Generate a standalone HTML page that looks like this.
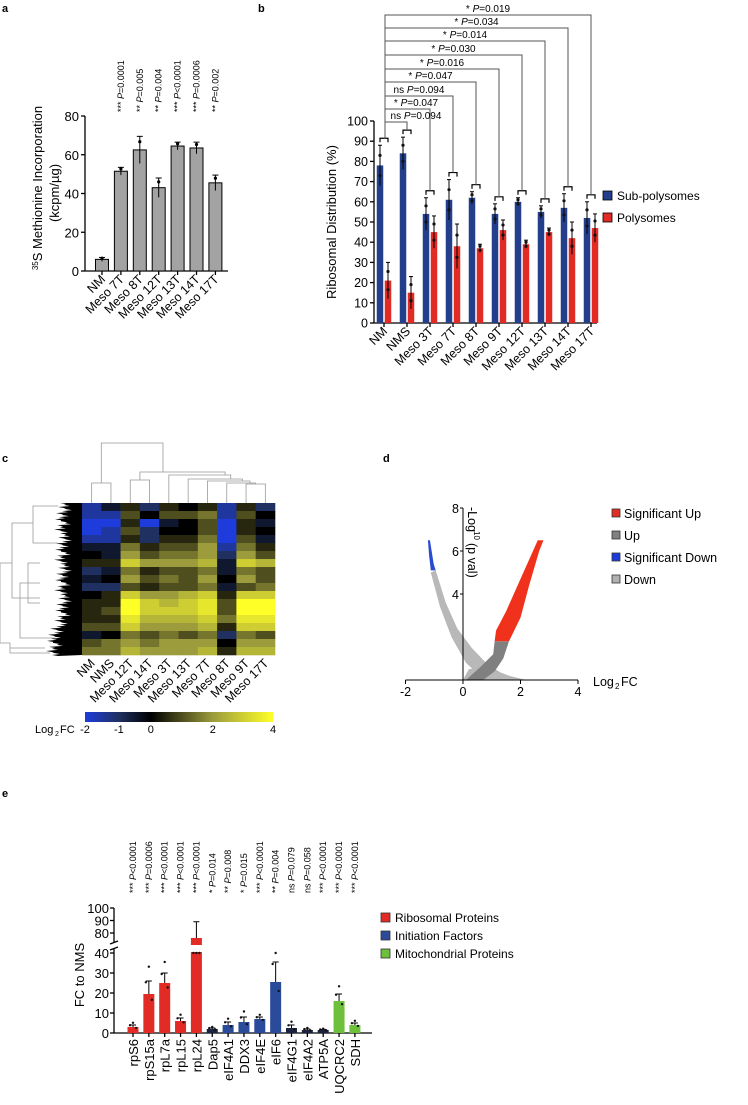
<!DOCTYPE html>
<html><head><meta charset="utf-8">
<style>
body{margin:0;background:#fff;}
svg{display:block;font-family:"Liberation Sans",Arial,sans-serif;}
</style></head>
<body>
<svg id="fig" width="748" height="1105" viewBox="0 0 748 1105">
<defs>
<linearGradient id="cbar" x1="0" x2="1" y1="0" y2="0">
<stop offset="0" stop-color="#1e3cdc"/><stop offset="0.18" stop-color="#203060"/><stop offset="0.35" stop-color="#000"/><stop offset="0.68" stop-color="#9c9c3c"/><stop offset="1" stop-color="#ffff28"/>
</linearGradient>
</defs>
</svg>
<script>
// ---------- DATA ----------
const aCats=["NM","Meso 7T","Meso 8T","Meso 12T","Meso 13T","Meso 14T","Meso 17T"];
const aVals=[6,51.5,62.5,43,64.5,63.5,45.5];
const aErr=[1,2,7,5,2,3,4];
const aP=["","*** P=0.0001","** P=0.005","** P=0.004","*** P<0.0001","*** P=0.0006","** P=0.002"];
const aTicks=[0,20,40,60,80];

const bCats=["NM","NMS","Meso 3T","Meso 7T","Meso 8T","Meso 9T","Meso 12T","Meso 13T","Meso 14T","Meso 17T"];
const bSub=[78,84,54,61,62,54,60,55,57,52];
const bSubErr=[10,8,8,10,3,5,2,3,7,8];
const bPoly=[21,15,45,38,37,46,39,45,42,47];
const bPolyErr=[9,8,8,11,2,5,2,2,8,7];
const bTicks=[0,10,20,30,40,50,60,70,80,90,100];
const bCompTarget=[9,8,7,6,5,4,3,2,1];
const bCompLabel=["* P=0.019","* P=0.034","* P=0.014","* P=0.030","* P=0.016","* P=0.047","ns P=0.094","* P=0.047","ns P=0.094"];

const cCols=["NM","NMS","Meso 12T","Meso 14T","Meso 3T","Meso 13T","Meso 7T","Meso 8T","Meso 9T","Meso 17T"];
const cMatrix=[
[-1.5,-0.5,0.5,-1,0.5,0,0.5,-1.5,0.5,-1],
[-1.5,-1.5,1,0,1,1,1.5,-1.5,1,0],
[-2,-2,0.5,-2,-0.5,0,1,-2,0.5,-0.5],
[-2,-1.5,1,-1,0,0,1,-2,0.5,0],
[-1.5,-1.5,0.5,-1,0.5,0.5,1.5,-2,1,-0.5],
[-0.5,-0.5,1.5,0.5,1,1,2,-1.5,1.5,0.5],
[0,-0.5,2,1,1.5,1.5,2,-1,2,1],
[0.5,0.5,3,2,2,2,2.5,-0.5,3,2.5],
[-1,-0.5,1.5,0.5,1,1,1.5,-0.5,1.5,1],
[-0.5,0,2,1,1.5,1,2,0,2,1],
[-1,-1,1,0.5,1,1,1.5,-0.5,1,1.5],
[0,0.5,3,2,2,2.5,3,0.5,3,3],
[0.5,0.5,4,3,2.5,3,3.5,1,4,4],
[0.5,1,4,3,3,3,3.5,1,4,4],
[0.5,0.5,3.5,2.5,2.5,2.5,3,1.5,3.5,3.5],
[1,1,3,2,2,2,2.5,0.5,3,3],
[-0.5,0,1.5,1,1.5,1,1.5,-1,1.5,1],
[1,1.5,2,1.5,2,2,2,0,2,2],
[1.5,1.5,2.5,2,2,2,2.5,0.5,2.5,2.5]];
const cBarTicks=[-2,-1,0,2,4];

const dXTicks=[-2,0,2,4];
const dYTicks=[4,6,8];
const dLight=[[-1.12,5.0],[-0.95,5.1],[-0.6,3.6],[-0.2,2.4],[0.3,1.5],[0.8,0.8],[1.3,0.35],[2.0,0],[0.9,0],[0.5,0.3],[0.1,0.8],[-0.4,2.0],[-0.8,3.4]];
const dLightBottom=[[0,0],[0.2,0.5],[0.6,0.6],[1.0,0.5],[1.6,0.2],[2.2,0],[1.2,0]];
const dDark=[[0.1,0],[0.6,0.6],[1.05,1.2],[1.1,1.8],[1.6,1.8],[1.4,1.0],[1.1,0.4],[0.7,0]];
const dRed=[[1.1,1.8],[1.6,1.8],[2.0,2.9],[2.3,4.4],[2.65,6.0],[2.8,6.5],[2.6,6.5],[2.3,5.6],[1.9,4.4],[1.5,3.2],[1.15,2.3]];
const dBlue=[[-1.22,6.5],[-1.15,6.5],[-1.02,5.4],[-0.95,5.1],[-1.12,5.1],[-1.18,5.8]];

const eCats=["rpS6","rpS15a","rpL7a","rpL15","rpL24","Dap5","eIF4A1","DDX3","eIF4E","eIF6","eIF4G1","eIF4A2","ATP5A","UQCRC2","SDH"];
const eVals=[3,19.5,25,6,76,2,4,5.5,7,25.5,2.5,1.5,1.5,16,4];
const eErr=[1,6.5,5,1.5,13,0.5,1.5,2.5,1,10,1.5,0.5,0.3,3.5,1];
const eGroup=[0,0,0,0,0,2,1,1,1,1,2,2,2,3,3];
const eP=["*** P<0.0001","*** P=0.0006","*** P<0.0001","*** P<0.0001","*** P<0.0001","* P=0.014","** P=0.008","* P=0.015","*** P<0.0001","** P=0.004","ns P=0.079","ns P=0.058","*** P<0.0001","*** P<0.0001","*** P<0.0001"];
const eTicksLow=[0,10,20,30,40];
const eTicksHigh=[80,90,100];

// ---------- HELPERS ----------
const NS="http://www.w3.org/2000/svg";
const svg=document.getElementById('fig');
function mk(tag,attrs,parent){const el=document.createElementNS(NS,tag);for(const k in attrs)el.setAttribute(k,attrs[k]);(parent||svg).appendChild(el);return el;}
function nm(el,n){


return el;}
function txt(x,y,s,size,attrs,name,pItal){const t=mk('text',Object.assign({x:x,y:y,'font-size':size},attrs||{}));
if(pItal){const m=s.match(/^(.*?)P(.*)$/);const a=mk('tspan',{},t);a.textContent=m[1];const b=mk('tspan',{'font-style':'italic'},t);b.textContent='P';const c=mk('tspan',{},t);c.textContent=m[2];}
else t.textContent=s;
return nm(t,name);}
function line(x1,y1,x2,y2,name,stroke,w){return nm(mk('line',{x1:x1,y1:y1,x2:x2,y2:y2,stroke:stroke||'#000','stroke-width':w||1.3}),name);}

txt(2,12,"a",11,{'font-weight':'bold'},'panel-a-label');
txt(258,12,"b",11,{'font-weight':'bold'},'panel-b-label');
txt(2,462,"c",11,{'font-weight':'bold'},'panel-c-label');
txt(383,462,"d",11,{'font-weight':'bold'},'panel-d-label');
txt(2,797,"e",11,{'font-weight':'bold'},'panel-e-label');

// ---------- PANEL A ----------
(function(){
const y0=271,pxU=155/80,ax=85,x0=102,sp=18.9,bw=13;
const Y=v=>y0-v*pxU, X=i=>x0+i*sp;
line(ax,116,ax,y0,'a-y-axis');
line(ax,y0,228,y0,'a-x-axis');
aTicks.forEach(t=>{line(ax-4,Y(t),ax,Y(t),'a-y-tick');txt(ax-6,Y(t)+5,String(t),13,{'text-anchor':'end'},'a-y-tick-label');});
aCats.forEach((c,i)=>{
nm(mk('rect',{x:X(i)-bw/2,y:Y(aVals[i]),width:bw,height:y0-Y(aVals[i]),fill:'#a3a3a3',stroke:'#000','stroke-width':1}),'a-bar');
line(X(i),Y(aVals[i]-aErr[i]),X(i),Y(aVals[i]+aErr[i]),'a-error-bar','#000',1);
line(X(i)-3,Y(aVals[i]+aErr[i]),X(i)+3,Y(aVals[i]+aErr[i]),'a-error-cap','#000',1);
nm(mk('circle',{cx:X(i),cy:Y(aVals[i]+aErr[i]*0.6),r:1.6,fill:'#000'}),'a-point');
line(X(i),y0,X(i),y0+4,'a-x-tick');
txt(X(i)+4,y0+9,c,12.5,{'text-anchor':'end',transform:`rotate(-45 ${X(i)+4} ${y0+9})`},'a-x-label');
if(aP[i])txt(X(i)+3,112,aP[i],9,{transform:`rotate(-90 ${X(i)+3} 112)`},'a-p-value',true);
});
const t=mk('text',{x:42,y:188,'font-size':13,'text-anchor':'middle',transform:'rotate(-90 42 188)'});
nm(t,'a-y-title');
const s1=mk('tspan',{'font-size':8,dy:-4},t);s1.textContent='35';
const s2=mk('tspan',{dy:4},t);s2.textContent='S Methionine Incorporation';
txt(59,193,"(kcpm/µg)",13,{'text-anchor':'middle',transform:'rotate(-90 59 193)'},'a-y-title-unit');
})();

// ---------- PANEL B ----------
(function(){
const y0=323,pxU=2.02,ax=374,x0=384,sp=23,bw=6.5;
const Y=v=>y0-v*pxU, X=i=>x0+i*sp;
line(ax,121,ax,y0,'b-y-axis');
line(ax,y0,597,y0,'b-x-axis');
bTicks.forEach(t=>{line(ax-4,Y(t),ax,Y(t),'b-y-tick');txt(ax-6,Y(t)+4.5,String(t),12.5,{'text-anchor':'end'},'b-y-tick-label');});
const bTop=[];
bCats.forEach((c,i)=>{
const xs=[X(i)-4,X(i)+4],vals=[bSub[i],bPoly[i]],errs=[bSubErr[i],bPolyErr[i]],cols=['#233f8c','#e22b25'],names=['b-bar-sub-polysomes','b-bar-polysomes'];
for(let k=0;k<2;k++){
nm(mk('rect',{x:xs[k]-bw/2,y:Y(vals[k]),width:bw,height:y0-Y(vals[k]),fill:cols[k]}),names[k]);
line(xs[k],Y(vals[k]-errs[k]),xs[k],Y(vals[k]+errs[k]),'b-error-bar','#000',1);
line(xs[k]-2,Y(vals[k]+errs[k]),xs[k]+2,Y(vals[k]+errs[k]),'b-error-cap','#000',1);
nm(mk('circle',{cx:xs[k],cy:Y(vals[k]+errs[k]*0.5),r:1.6,fill:'#111'}),'b-point');
nm(mk('circle',{cx:xs[k],cy:Y(vals[k]-errs[k]*0.5),r:1.6,fill:'#111'}),'b-point');
}
line(X(i),y0,X(i),y0+4,'b-x-tick');
txt(X(i)+4,y0+9,c,12.5,{'text-anchor':'end',transform:`rotate(-45 ${X(i)+4} ${y0+9})`},'b-x-label');
const top=Y(Math.max(bSub[i]+bSubErr[i],bPoly[i]+bPolyErr[i]))-7;bTop.push(top);
nm(mk('path',{d:`M${X(i)-4} ${top+4}V${top}H${X(i)+4}V${top+4}`,fill:'none',stroke:'#000','stroke-width':1.2}),'b-group-bracket');
});
const levels=[15,28,41,55,69,82,96,109,122];
bCompTarget.forEach((t,j)=>{
const ly=levels[j],xs=X(0)+1,xt=X(t);
nm(mk('path',{d:`M${xs} ${bTop[0]}V${ly}H${xt}V${bTop[t]}`,fill:'none',stroke:'#555','stroke-width':1}),'b-comparison-line');
const mid=Math.max((xs+xt)/2,416);
txt(mid,ly-3,bCompLabel[j],10,{'text-anchor':'middle'},'b-comparison-label',true);
});
txt(336,222,"Ribosomal Distribution (%)",13,{'text-anchor':'middle',transform:'rotate(-90 336 222)'},'b-y-title');
nm(mk('rect',{x:603,y:191,width:9,height:9,fill:'#233f8c',stroke:'#000','stroke-width':0.8}),'b-legend-swatch-sub');
txt(617,200,"Sub-polysomes",12,{},'b-legend-sub-polysomes');
nm(mk('rect',{x:603,y:213,width:9,height:9,fill:'#e22b25',stroke:'#000','stroke-width':0.8}),'b-legend-swatch-poly');
txt(617,222,"Polysomes",12,{},'b-legend-polysomes');
})();

// ---------- PANEL C ----------
(function(){
const hx=82,hy=503,hw=193,hh=152,cw=hw/cCols.length,rh=hh/cMatrix.length;
function col(v){const st=[[-2,[30,60,220]],[-1,[32,48,96]],[0,[0,0,0]],[2,[156,156,60]],[4,[255,255,40]]];
for(let k=0;k<st.length-1;k++){if(v<=st[k+1][0]){const f=(v-st[k][0])/(st[k+1][0]-st[k][0]);const a=st[k][1],b=st[k+1][1];return `rgb(${a.map((c,j)=>Math.round(c+(b[j]-c)*f)).join(',')})`;}}return 'rgb(255,255,40)';}
cMatrix.forEach((row,r)=>row.forEach((v,c)=>{
nm(mk('rect',{x:hx+c*cw,y:hy+r*rh,width:cw+0.3,height:rh+0.3,fill:col(v)}),'c-heatmap-cell');
}));
cCols.forEach((c,i)=>{const x=hx+(i+0.5)*cw;txt(x+4,hy+hh+9,c,12.5,{'text-anchor':'end',transform:`rotate(-45 ${x+4} ${hy+hh+9})`},'c-column-label');});
const cx=i=>hx+(i+0.5)*cw;
const dg=`M${cx(0)} ${hy}V483H${cx(1)}V${hy} M${(cx(0)+cx(1))/2} 483V443H163V472 M${cx(2)} ${hy}V480H${cx(3)}V${hy} M${(cx(2)+cx(3))/2} 480V472H${(cx(4)+cx(9))/2+8}V475 M${cx(4)} ${hy}V475H${(cx(5)+cx(9))/2+4}V479 M${cx(5)} ${hy}V479H${(cx(6)+cx(9))/2+6}V481 M${cx(6)} ${hy}V481H${(cx(7)+cx(9))/2+4}V483 M${cx(7)} ${hy}V483H${(cx(8)+cx(9))/2}V484 M${cx(8)} ${hy}V484H${cx(9)}V${hy}`;
nm(mk('path',{d:dg,fill:'none',stroke:'#999','stroke-width':0.8}),'c-column-dendrogram');
let pts=`${hx},${hy}`;const jag=[60,64,58,66,62,56,63,59,55,61,65,57,60,54,62];
for(let k=0;k<=75;k++){const yy=hy+k*hh/75;const xx=jag[k%15]-(k>60?8:0);pts+=` ${xx},${yy} ${xx+6},${yy+1}`;}pts+=` ${hx},${hy+hh}`;
nm(mk('polygon',{points:pts,fill:'#000'}),'c-row-dendrogram-leaves');
nm(mk('path',{d:`M58 ${hy+3}H33V${hy+40}H58 M33 ${hy+20}H12V${hy+95}H40 M12 ${hy+60}H0 M40 ${hy+80}H20V${hy+135}H55 M0 ${hy+60}V${hy+140}H10V${hy+150}H50 M10 ${hy+145}H45 M40 ${hy+60}H28V${hy+100}H40`,fill:'none',stroke:'#999','stroke-width':0.8}),'c-row-dendrogram');
nm(mk('rect',{x:85,y:712,width:188,height:10,fill:'url(#cbar)'}),'c-colorbar');
cBarTicks.forEach(t=>{const pos={"-2":0,"-1":0.18,"0":0.35,"2":0.68,"4":1}[t];txt(85+pos*188,733,String(t),11,{'text-anchor':'middle'},'c-colorbar-tick');});
txt(35,733,"Log",11,{},'c-colorbar-title');txt(55,736,"2",7,{},'c-colorbar-title-sub');txt(60,733," FC",11,{},'c-colorbar-title-fc');
})();

// ---------- PANEL D ----------
(function(){
const ox=463,oy=680,ux=28.75,uy=21.5;
const X=v=>ox+v*ux,Y=v=>oy-v*uy;
function poly(arr,fill,name){nm(mk('polygon',{points:arr.map(p=>X(p[0])+','+Y(p[1])).join(' '),fill:fill}),name);}
poly(dLight,'#b8b8b8','d-down-points');
poly(dLightBottom,'#b8b8b8','d-down-points-bottom');
poly(dDark,'#808080','d-up-points');
poly(dRed,'#f0321c','d-significant-up-points');
poly(dBlue,'#2a4ad0','d-significant-down-points');
line(X(-2),oy,X(4),oy,'d-x-axis','#000',1);
line(ox,Y(8),ox,oy,'d-y-axis','#000',1);
dXTicks.forEach(t=>{line(X(t),oy,X(t),oy+4,'d-x-tick','#000',1);txt(X(t),oy+16,String(t),12.5,{'text-anchor':'middle'},'d-x-tick-label');});
dYTicks.forEach(t=>{line(ox-3,Y(t),ox,Y(t),'d-y-tick','#000',1);txt(ox-4,Y(t)+5,String(t),12.5,{'text-anchor':'end'},'d-y-tick-label');});
txt(593,686,"Log",12.5,{},'d-x-title');txt(615,689,"2",8,{},'d-x-title-sub');txt(621,686," FC",12.5,{},'d-x-title-fc');
txt(468,507,"-Log",12.5,{transform:'rotate(90 468 507)'},'d-y-title');
txt(474,531,"10",8,{transform:'rotate(90 474 531)'},'d-y-title-sub');
txt(468,543," (p val)",12.5,{transform:'rotate(90 468 543)'},'d-y-title-rest');
const lg=[['#e22b25','Significant Up'],['#808080','Up'],['#1e3cdc','Significant Down'],['#b0b0b0','Down']];
lg.forEach((l,i)=>{nm(mk('rect',{x:612,y:509+i*22,width:8,height:8,fill:l[0],stroke:'#333','stroke-width':0.8}),'d-legend-swatch');txt(624,518+i*22,l[1],12.5,{},'d-legend-entry');});
})();

// ---------- PANEL E ----------
(function(){
const ax=114,y0=1033,uLow=2,x0=133,sp=15.85,bw=11;
const yHigh0=933,uHigh=1.25;
const Y=v=>v<=40?y0-v*uLow:yHigh0-(v-80)*uHigh;
const X=i=>x0+i*sp;
const cols=['#e22b25','#2a4a9a','#1c2340','#6cc03a'];
line(ax,y0,ax,949,'e-y-axis-lower');line(ax,942,ax,Y(100),'e-y-axis-upper');
line(ax-4,950,ax+4,947,'e-axis-break');line(ax-4,944,ax+4,941,'e-axis-break');
line(ax,y0,372,y0,'e-x-axis');
eTicksLow.forEach(t=>{line(ax-4,Y(t),ax,Y(t),'e-y-tick');txt(ax-5,Y(t)+5,String(t),13,{'text-anchor':'end'},'e-y-tick-label');});
eTicksHigh.forEach(t=>{line(ax-4,Y(t),ax,Y(t),'e-y-tick');txt(ax-5,Y(t)+5,String(t),13,{'text-anchor':'end'},'e-y-tick-label');});
eCats.forEach((c,i)=>{
const top=eVals[i]>40?yHigh0-(eVals[i]-80)*uHigh:Y(eVals[i]);
nm(mk('rect',{x:X(i)-bw/2,y:top,width:bw,height:y0-top,fill:cols[eGroup[i]]}),'e-bar');
if(eVals[i]>40)nm(mk('rect',{x:X(i)-bw/2-1,y:945,width:bw+2,height:7,fill:'#fff'}),'e-bar-break');
const et=eVals[i]>40?yHigh0-(eVals[i]+eErr[i]-80)*uHigh:Y(eVals[i]+eErr[i]);
line(X(i),top,X(i),et,'e-error-bar','#000',1);
line(X(i)-3,et,X(i)+3,et,'e-error-cap','#000',1);
[0.6,1.4,-0.3].forEach((f,k)=>{const v=Math.max(0.3,eVals[i]+eErr[i]*f*1.5);nm(mk('circle',{cx:X(i)+(k-1)*3,cy:Y(Math.min(v,40)),r:1.2,fill:'#111'}),'e-point');});
line(X(i),y0,X(i),y0+4,'e-x-tick');
txt(X(i)+5,y0+6,c,13,{'text-anchor':'end',transform:`rotate(-90 ${X(i)+5} ${y0+6})`},'e-x-label');
txt(X(i)+3,893,eP[i],9,{transform:`rotate(-90 ${X(i)+3} 893)`},'e-p-value',true);
});
txt(84,975,"FC to NMS",13,{'text-anchor':'middle',transform:'rotate(-90 84 975)'},'e-y-title');
const lg=[['#e22b25','Ribosomal Proteins'],['#2a4a9a','Initiation Factors'],['#6cc03a','Mitochondrial Proteins']];
lg.forEach((l,i)=>{nm(mk('rect',{x:381,y:913+i*18,width:9,height:9,fill:l[0],stroke:'#333','stroke-width':0.8}),'e-legend-swatch');txt(395,922+i*18,l[1],12,{},'e-legend-entry');});
})();
</script>
</body></html>
